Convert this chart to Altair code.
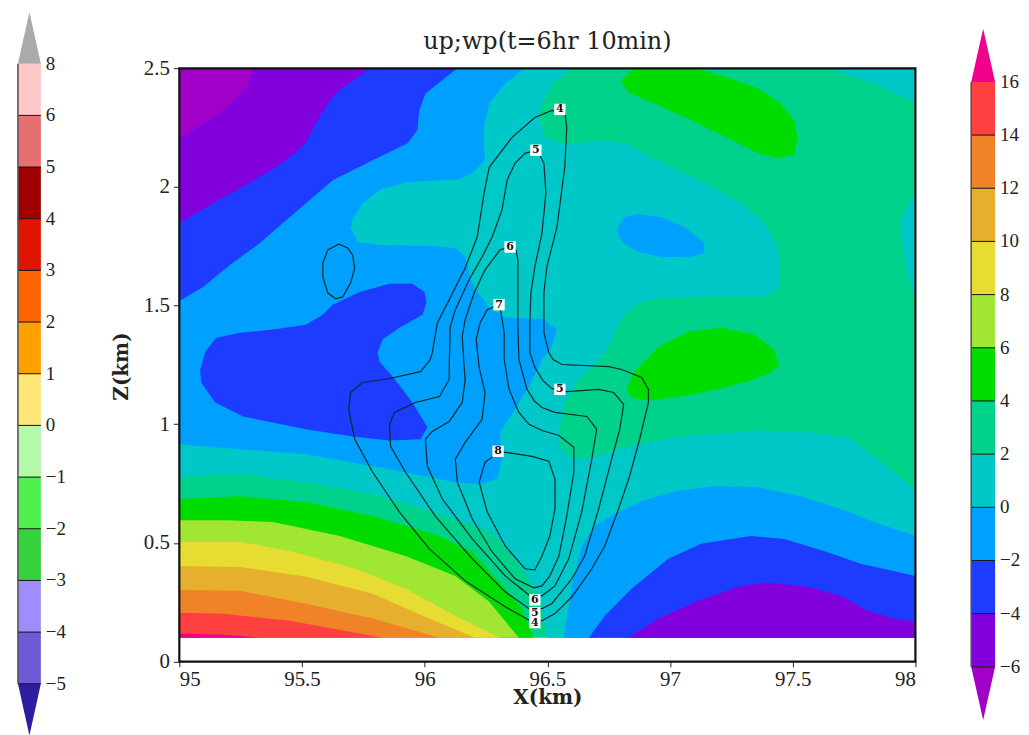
import altair as alt
import pandas as pd

# ---- filled contour regions, (X km, Z km), painted back to front ----
BASE = [(95, .1), (98, .1), (98, 2.5), (95, 2.5)]
TEAL_MAIN = [(95, 2.5), (96.612, 2.5), (96.531, 2.447), (96.478, 2.352), (96.466, 2.293), (96.478, 2.251), (96.49, 2.209),
    (96.539, 2.188), (96.612, 2.184), (96.721, 2.197), (96.815, 2.184), (96.924, 2.125), (97.058, 2.058), (97.18, 1.995),
    (97.29, 1.932), (97.383, 1.848), (97.44, 1.747), (97.448, 1.638), (97.44, 1.567), (97.383, 1.537), (97.156, 1.537),
    (96.953, 1.533), (96.872, 1.512), (96.803, 1.453), (96.77, 1.369), (96.734, 1.302), (96.681, 1.239), (96.628, 1.189),
    (96.571, 1.092), (96.551, .991), (96.551, .907), (96.587, .865), (96.632, .857), (96.693, .865), (96.831, .907),
    (97.018, .945), (97.359, .974), (97.562, .966), (97.724, .945), (97.83, .865), (97.911, .798), (98, .727), (98, .1),
    (96.498, .1), (96.47, .265), (96.445, .307), (96.409, .378), (96.275, .546), (96.06, .622), (95.788, .706),
    (95.516, .756), (95.248, .79), (95, .781)]
TEAL_STRIP = [(98, 1.987), (97.94, 1.861), (97.948, 1.747), (97.964, 1.651), (98, 1.525)]
TEAL_CORNER = [(97.643, 2.5), (97.83, 2.436), (98, 2.356), (98, 2.5)]
BLUE_MAIN = [(95, 2.5), (96.409, 2.5), (96.328, 2.436), (96.263, 2.352), (96.242, 2.251), (96.242, 2.167), (96.246, 2.113),
    (96.194, 2.058), (96.141, 2.033), (95.922, 2.02), (95.816, 1.987), (95.747, 1.932), (95.706, 1.861), (95.698, 1.827),
    (95.727, 1.768), (95.816, 1.756), (96.031, 1.751), (96.125, 1.743), (96.165, 1.705), (96.186, 1.621), (96.206, 1.567),
    (96.263, 1.495), (96.328, 1.449), (96.478, 1.445), (96.539, 1.399), (96.518, 1.327), (96.478, 1.273), (96.466, 1.243),
    (96.425, 1.159), (96.368, 1.063), (96.307, .966), (96.315, .853), (96.295, .769), (96.222, .748), (96.125, .756),
    (95.857, .811), (95.516, .874), (95.248, .895), (95, .916)]
BLUE_BLOB = [(96.782, 1.819), (96.811, 1.873), (96.872, 1.886), (96.965, 1.873), (97.058, 1.831), (97.136, 1.768),
    (97.14, 1.722), (97.087, 1.705), (96.965, 1.705), (96.872, 1.726), (96.803, 1.768)]
BLUE_LOW = [(96.567, .1), (96.6, .319), (96.64, .487), (96.693, .571), (96.774, .622), (96.884, .676), (97.018, .718),
    (97.18, .739), (97.359, .735), (97.533, .697), (97.696, .643), (97.83, .588), (98, .529), (98, .1)]
DARK_TOP = [(95, 2.5), (96.133, 2.5), (96.003, 2.394), (95.978, 2.323), (95.97, 2.239), (95.93, 2.184), (95.788, 2.113),
    (95.625, 2.029), (95.516, 1.932), (95.422, 1.848), (95.329, 1.764), (95.207, 1.672), (95.097, 1.579), (95, 1.52)]
DARK_MID = [(95.625, 1.504), (95.735, 1.558), (95.857, 1.592), (95.95, 1.592), (95.999, 1.558), (96.007, 1.512),
    (95.991, 1.462), (95.897, 1.407), (95.828, 1.357), (95.808, 1.302), (95.816, 1.264), (95.869, 1.201), (95.95, 1.092),
    (96.011, .987), (95.983, .937), (95.857, .932), (95.706, .949), (95.516, .979), (95.26, 1.033), (95.146, 1.092),
    (95.089, 1.176), (95.085, 1.231), (95.106, 1.306), (95.15, 1.365), (95.248, 1.386), (95.382, 1.399), (95.516, 1.42),
    (95.585, 1.462)]
DARK_LOW = [(96.669, .1), (96.734, .193), (96.843, .307), (96.993, .433), (97.127, .496), (97.33, .529), (97.464, .517),
    (97.627, .466), (97.777, .412), (98, .361), (98, .1)]
PURPLE_TOP = [(95, 2.5), (95.775, 2.5), (95.637, 2.394), (95.605, 2.352), (95.556, 2.268), (95.516, 2.188), (95.475, 2.146),
    (95.394, 2.083), (95.248, 1.995), (95.11, 1.915), (95, 1.848)]
PURPLE_LOW = [(96.831, .1), (96.953, .181), (97.115, .256), (97.29, .319), (97.399, .332), (97.562, .315), (97.696, .277),
    (97.805, .214), (97.911, .181), (98, .168), (98, .1)]
VIOLET_TOP = [(95, 2.5), (95.296, 2.5), (95.288, 2.449), (95.272, 2.415), (95.179, 2.323), (95.069, 2.247), (95, 2.209)]
GREEN_TOP = [(96.799, 2.449), (96.855, 2.5), (97.099, 2.5), (97.237, 2.461), (97.359, 2.415), (97.452, 2.352), (97.505, 2.281),
    (97.521, 2.205), (97.505, 2.134), (97.44, 2.121), (97.359, 2.142), (97.237, 2.205), (97.087, 2.281), (96.953, 2.344),
    (96.831, 2.398)]
GREEN_MID = [(96.872, 1.239), (96.953, 1.327), (97.075, 1.39), (97.209, 1.407), (97.343, 1.378), (97.424, 1.315),
    (97.444, 1.252), (97.412, 1.218), (97.318, 1.18), (97.156, 1.138), (97.018, 1.113), (96.912, 1.1), (96.843, 1.113),
    (96.823, 1.147), (96.851, 1.218)]
GE4 = [(95, .1), (95, .685), (95.248, .697), (95.516, .672), (95.788, .613), (96.06, .529), (96.194, .462), (96.328, .307),
    (96.397, .223), (96.445, .1)]
GE6 = [(95, .1), (95, .596), (95.191, .596), (95.382, .588), (95.654, .529), (95.922, .445), (96.125, .361), (96.263, .252),
    (96.384, .1)]
GE8 = [(95, .1), (95, .504), (95.248, .504), (95.451, .466), (95.719, .391), (95.922, .307), (96.125, .193), (96.307, .1)]
GE10 = [(95, .1), (95, .403), (95.248, .399), (95.516, .357), (95.788, .286), (95.991, .193), (96.206, .1)]
GE12 = [(95, .1), (95, .302), (95.248, .298), (95.516, .244), (95.788, .181), (96.06, .1)]
GE14 = [(95, .1), (95, .206), (95.179, .202), (95.451, .172), (95.828, .1)]
GE16 = [(95, .1), (95, .118), (95.179, .113), (95.341, .1)]

REGIONS = [(BASE, "#00d28c"), (TEAL_MAIN, "#00c8c8"), (TEAL_STRIP, "#00c8c8"), (TEAL_CORNER, "#00c8c8"),
    (BLUE_MAIN, "#00a0ff"), (BLUE_BLOB, "#00a0ff"), (BLUE_LOW, "#00a0ff"),
    (DARK_TOP, "#1e3cff"), (DARK_MID, "#1e3cff"), (DARK_LOW, "#1e3cff"),
    (PURPLE_TOP, "#8200dc"), (PURPLE_LOW, "#8200dc"), (VIOLET_TOP, "#a000c8"),
    (GREEN_TOP, "#00dc00"), (GREEN_MID, "#00dc00"), (GE4, "#00dc00"), (GE6, "#a0e632"), (GE8, "#e6dc32"),
    (GE10, "#e6af2d"), (GE12, "#f08228"), (GE14, "#ff4040"), (GE16, "#f0008c")]

# ---- line contours ----
C4 = [(96.551, 2.318), (96.518, 2.323), (96.449, 2.293), (96.356, 2.209), (96.263, 2.083), (96.242, 1.974), (96.214, 1.789),
    (96.165, 1.659), (96.1, 1.525), (96.052, 1.428), (96.031, 1.302), (96.023, 1.273), (95.983, 1.222), (95.857, 1.193),
    (95.747, 1.176), (95.698, 1.134), (95.69, 1.063), (95.715, .937), (95.788, .798), (95.897, .63), (96.019, .475),
    (96.165, .34), (96.328, .231), (96.429, .172), (96.478, .172), (96.531, .202), (96.6, .273), (96.681, .391), (96.734, .487),
    (96.79, .643), (96.835, .781), (96.876, .937), (96.912, 1.092), (96.912, 1.147), (96.884, 1.197), (96.803, 1.231),
    (96.75, 1.243), (96.559, 1.252), (96.523, 1.273), (96.506, 1.302), (96.486, 1.386), (96.486, 1.554), (96.498, 1.663),
    (96.539, 1.831), (96.571, 2.083), (96.579, 2.251), (96.571, 2.318), (96.551, 2.318)]
C5 = [(96.453, 2.155), (96.409, 2.142), (96.368, 2.1), (96.336, 2.029), (96.315, 1.903), (96.275, 1.789), (96.234, 1.705),
    (96.181, 1.609), (96.125, 1.483), (96.104, 1.411), (96.1, 1.239), (96.1, 1.189), (96.06, 1.117), (95.962, 1.092),
    (95.877, 1.05), (95.857, 1.0), (95.861, .907), (95.922, .798), (96.043, .613), (96.194, .433), (96.328, .294), (96.425, .223),
    (96.478, .223), (96.518, .244), (96.6, .349), (96.652, .445), (96.709, .643), (96.762, .853), (96.795, .979), (96.811, 1.084),
    (96.77, 1.134), (96.709, 1.147), (96.579, 1.138), (96.518, 1.151), (96.482, 1.184), (96.449, 1.239), (96.429, 1.302),
    (96.429, 1.441), (96.433, 1.554), (96.449, 1.663), (96.478, 1.806), (96.494, 1.974), (96.486, 2.1), (96.47, 2.134), (96.453, 2.155)]
C6 = [(96.348, 1.747), (96.307, 1.735), (96.246, 1.651), (96.202, 1.554), (96.165, 1.441), (96.153, 1.369), (96.161, 1.239),
    (96.165, 1.189), (96.153, 1.092), (96.1, 1.012), (96.031, .97), (96.003, .937), (96.011, .823), (96.072, .685), (96.194, .517),
    (96.328, .361), (96.429, .277), (96.478, .277), (96.531, .319), (96.587, .433), (96.64, .63), (96.681, .853), (96.701, .979),
    (96.661, 1.033), (96.531, 1.05), (96.478, 1.071), (96.449, 1.096), (96.417, 1.147), (96.384, 1.273), (96.38, 1.411),
    (96.38, 1.693), (96.372, 1.735), (96.348, 1.747)]
C7 = [(96.303, 1.504), (96.255, 1.483), (96.226, 1.428), (96.21, 1.357), (96.222, 1.239), (96.246, 1.134), (96.234, 1.021),
    (96.165, .924), (96.125, .853), (96.133, .756), (96.194, .601), (96.275, .462), (96.368, .349), (96.445, .311), (96.478, .319),
    (96.51, .361), (96.547, .445), (96.579, .613), (96.608, .798), (96.608, .903), (96.547, .953), (96.478, .974), (96.425, 1.0),
    (96.384, 1.05), (96.344, 1.147), (96.324, 1.273), (96.324, 1.386), (96.311, 1.47), (96.303, 1.504)]
C8 = [(96.299, .886), (96.328, .882), (96.437, .865), (96.506, .844), (96.531, .769), (96.531, .643), (96.51, .529), (96.478, .445),
    (96.449, .386), (96.409, .391), (96.328, .487), (96.255, .63), (96.222, .756), (96.246, .84), (96.283, .869), (96.299, .886)]
C_SMALL = [(95.65, 1.76), (95.686, 1.743), (95.706, 1.714), (95.715, 1.659), (95.698, 1.596), (95.666, 1.537), (95.637, 1.529),
    (95.605, 1.554), (95.585, 1.621), (95.585, 1.68), (95.605, 1.735), (95.65, 1.76)]
CONTOURS = [C4, C5, C6, C7, C8, C_SMALL]

LABEL_X = [96.551, 96.453, 96.348, 96.303, 96.551, 96.299, 96.449, 96.449, 96.449]
LABEL_Y = [2.327, 2.155, 1.747, 1.504, 1.147, .886, .26, .206, .164]
LABEL_T = ["4", "5", "6", "7", "5", "8", "6", "5", "4"]

# ---- colour bars ----
LEFT_LEVELS = ["−5", "−4", "−3", "−2", "−1", "0", "1", "2", "3", "4", "5", "6", "8"]
LEFT_COLORS = ["#6e5ad7", "#a08cff", "#37d23c", "#50f050", "#b4faaa", "#ffe678", "#ffa000", "#ff6400", "#e11400", "#a00000",
    "#e67070", "#ffc8c8"]
LEFT_LOW, LEFT_HIGH = "#2d1ea0", "#aaaaaa"
RIGHT_LEVELS = [-6, -4, -2, 0, 2, 4, 6, 8, 10, 12, 14, 16]
RIGHT_TEXT = ["−6", "−4", "−2", "0", "2", "4", "6", "8", "10", "12", "14", "16"]
RIGHT_COLORS = ["#8200dc", "#1e3cff", "#00a0ff", "#00c8c8", "#00d28c", "#00dc00", "#a0e632", "#e6dc32", "#e6af2d", "#f08228", "#ff4040"]
RIGHT_LOW, RIGHT_HIGH = "#a000c8", "#f0008c"

FONT = "Liberation Serif"
BOLD = "DejaVu Serif"
H = 725
Xq = lambda d: alt.X("x:Q", scale=alt.Scale(domain=d, nice=False, zero=False), axis=None)


def poly(pts, color, xenc, yenc):
    df = pd.DataFrame({"x": [p[0] for p in pts], "y": [p[1] for p in pts], "i": range(len(pts))})
    return alt.Chart(df).mark_line(filled=True, strokeWidth=0, interpolate="linear").encode(
        x=xenc, y=yenc, order="i:Q", color=alt.value(color))


# ---- main panel ----
x_main = alt.X("x:Q", scale=alt.Scale(domain=[95, 98], nice=False, zero=False),
    axis=alt.Axis(values=[95, 95.5, 96, 96.5, 97, 97.5, 98], labelExpr="datum.value", domain=False, grid=False,
        offset=-73, tickSize=6, tickColor="#222", labelFont=FONT, labelFontSize=21, labelColor="#222", labelPadding=2,
        title="X(km)", titleFont=BOLD, titleFontSize=20, titleFontWeight="bold", titleColor="#222", titlePadding=-2))
y_main = alt.Y("y:Q", scale=alt.Scale(domain=[-0.3035, 2.74], nice=False, zero=False),
    axis=alt.Axis(values=[0, .5, 1, 1.5, 2, 2.5], labelExpr="datum.value", domain=False, grid=False,
        tickSize=6, tickColor="#222", labelFont=FONT, labelFontSize=21, labelColor="#222", labelPadding=4,
        title="Z(km)", titleFont=BOLD, titleFontSize=20, titleFontWeight="bold", titleColor="#222", titleY=356, titlePadding=12))

layers = [poly(p, c, x_main, y_main) for p, c in REGIONS]
for c in CONTOURS:
    df = pd.DataFrame({"x": [p[0] for p in c], "y": [p[1] for p in c], "i": range(len(c))})
    layers.append(alt.Chart(df).mark_line(color="#0a2a2a", strokeWidth=1.2).encode(x=x_main, y=y_main, order="i:Q"))
lab = pd.DataFrame({"x": LABEL_X, "y": LABEL_Y, "t": LABEL_T})
layers.append(alt.Chart(lab).mark_square(color="white", size=130, opacity=1).encode(x=x_main, y=y_main))
layers.append(alt.Chart(lab).mark_text(font=BOLD, fontSize=11, fontWeight="bold", color="#111").encode(x=x_main, y=y_main, text="t:N"))
frame = pd.DataFrame({"x": [95], "x2": [98], "y": [0], "y2": [2.5]})
layers.append(alt.Chart(frame).mark_rect(filled=False, stroke="#111", strokeWidth=2.2).encode(x=x_main, x2="x2", y=y_main, y2="y2"))
title = pd.DataFrame({"x": [96.5], "y": [2.61], "t": ["up;wp(t=6hr  10min)"]})
layers.append(alt.Chart(title).mark_text(font=BOLD, fontSize=24, color="#222").encode(x=x_main, y=y_main, text="t:N"))
main = alt.layer(*layers).properties(width=739, height=H)


# ---- colour bars ----
def bar(levels, texts, colors, low, high, ydom, xdom, width):
    xe = Xq(xdom)
    ye = alt.Y("y:Q", scale=alt.Scale(domain=ydom, nice=False, zero=False), axis=None)
    seg = pd.DataFrame({"x": [0] * len(colors), "x2": [1] * len(colors), "y": levels[:-1], "y2": levels[1:], "c": colors})
    step = levels[1] - levels[0]
    parts = [alt.Chart(seg).mark_rect().encode(x=xe, x2="x2", y=ye, y2="y2", color=alt.Color("c:N", scale=None))]
    parts.append(poly([(0, levels[0]), (1, levels[0]), (.5, levels[0] - step)], low, xe, ye))
    parts.append(poly([(0, levels[-1]), (1, levels[-1]), (.5, levels[-1] + step)], high, xe, ye))
    sep = pd.DataFrame({"x": [0] * len(levels[:-1]), "x2": [1] * len(levels[:-1]), "y": levels[:-1]})
    parts.append(alt.Chart(sep).mark_rule(color="#111", strokeWidth=1).encode(x=xe, x2="x2", y=ye))
    edge = pd.DataFrame({"x": [0, 0], "y": [levels[0], levels[-1]], "i": [0, 1]})
    parts.append(alt.Chart(edge).mark_line(color="#555", strokeWidth=1.6).encode(x=xe, y=ye, order="i:Q"))
    t = pd.DataFrame({"x": [1] * len(levels), "y": levels, "t": texts})
    parts.append(alt.Chart(t).mark_text(align="left", dx=5, font=FONT, fontSize=19, color="#222").encode(x=xe, y=ye, text="t:N"))
    return alt.layer(*parts).properties(width=width, height=H)


left = bar(list(range(13)), LEFT_LEVELS, LEFT_COLORS, LEFT_LOW, LEFT_HIGH, [-0.964, 13.012], [0, 106 / 23], 106)
right = bar(RIGHT_LEVELS, RIGHT_TEXT, RIGHT_COLORS, RIGHT_LOW, RIGHT_HIGH, [-8.51, 18.65], [0, 1], 24)

chart = alt.hconcat(left, main, right, spacing=56, bounds="flush").properties(
    padding={"left": 6, "top": 2, "right": 0, "bottom": 0}
).configure_view(stroke=None)

chart.save("out.html", embed_options={"renderer": "svg", "actions": False})
